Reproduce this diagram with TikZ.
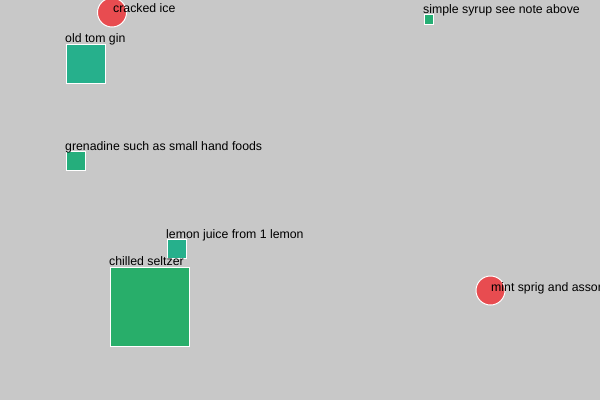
\documentclass[tikz,border=0pt]{standalone}
\usepackage{fontspec}
\setmainfont{Liberation Sans}
\definecolor{bg}{RGB}{200,200,200}
\definecolor{dotred}{RGB}{232,76,80}
\definecolor{tealA}{RGB}{38,176,140}
\definecolor{tealB}{RGB}{37,174,124}
\definecolor{tealC}{RGB}{37,174,116}
\definecolor{greenD}{RGB}{40,174,106}
\begin{document}
\begin{tikzpicture}[x=1pt,y=-1pt,
  sq/.style={draw=white,line width=1pt,inner sep=0pt,anchor=north west,minimum size=#1},
  dot/.style={circle,draw=white,line width=1pt,fill=dotred,inner sep=0pt,minimum size=29pt},
  lbl/.style={anchor=base west,inner sep=0pt,font=\fontsize{12.3}{14}\selectfont,text=black}]
\useasboundingbox (0,0) rectangle (600,400);
\clip (0,0) rectangle (600,400);
\fill[bg] (0,0) rectangle (600,400);
% circles
\node[dot] (ice) at (112,12.5) {};
\node[lbl] (icel) at (113,12) {cracked ice};
\node[dot] (mint) at (490.5,290.5) {};
\node[lbl] (mintl) at (491,291) {mint sprig and assorted};
% squares
\node[sq=39pt,fill=tealA] (gin) at (65.5,43.5) {};
\node[lbl] (ginl) at (65,42.5) {old tom gin};
\node[sq=19pt,fill=tealB] (gren) at (65.5,151) {};
\node[lbl] (grenl) at (65,150) {grenadine such as small hand foods};
\node[sq=9.5pt,fill=tealC] (syr) at (423.5,14) {};
\node[lbl] (syrl) at (423,13.5) {simple syrup see note above};
\node[sq=19pt,fill=tealA] (lem) at (166.5,239) {};
\node[lbl] (leml) at (166,238) {lemon juice from 1 lemon};
\node[sq=79pt,fill=greenD] (selt) at (109.5,266.5) {};
\node[lbl] (seltl) at (109,265) {chilled seltzer};
\end{tikzpicture}
\end{document}
